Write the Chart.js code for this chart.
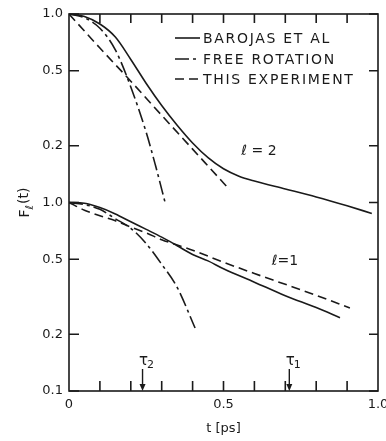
<!DOCTYPE html>
<html>
<head>
<meta charset="utf-8">
<script src="https://cdn.jsdelivr.net/npm/chart.js@4"></script>
<style>
  html, body { margin: 0; padding: 0; background: #fff; }
  #wrap { width: 386px; height: 441px; }
</style>
</head>
<body>
<div id="wrap"><canvas id="myChart" width="386" height="441"></canvas></div>
<script>
// l = 2 curves (values as read, shifted one decade up on the plot)
const tBarojas2 = [0, 0.05, 0.1, 0.15, 0.2, 0.25, 0.3, 0.35, 0.4, 0.45, 0.5, 0.55, 0.6, 0.7, 0.8, 0.9, 0.98];
const barojas2 = [1.0, 0.97, 0.885, 0.755, 0.574, 0.428, 0.327, 0.257, 0.207, 0.173, 0.151, 0.138, 0.130, 0.118, 0.107, 0.096, 0.0875];
const tFree2 = [0, 0.05, 0.1, 0.15, 0.2, 0.25, 0.28, 0.311];
const free2 = [1.0, 0.955, 0.84, 0.645, 0.41, 0.235, 0.157, 0.10];
const tExp2 = [0, 0.1, 0.2, 0.3, 0.4, 0.5, 0.52];
const exp2 = [1.0, 0.66, 0.44, 0.29, 0.192, 0.127, 0.117];

// l = 1 curves
const tBarojas1 = [0, 0.05, 0.1, 0.15, 0.2, 0.25, 0.3, 0.35, 0.4, 0.45, 0.5, 0.6, 0.7, 0.8, 0.877];
const barojas1 = [1.0, 0.99, 0.94, 0.87, 0.79, 0.72, 0.655, 0.59, 0.53, 0.49, 0.445, 0.378, 0.32, 0.277, 0.245];
const tFree1 = [0, 0.05, 0.1, 0.15, 0.2, 0.25, 0.3, 0.35, 0.408];
const free1 = [1.0, 0.975, 0.92, 0.82, 0.73, 0.605, 0.47, 0.355, 0.216];
const tExp1 = [0, 0.05, 0.1, 0.15, 0.2, 0.25, 0.3, 0.35, 0.4, 0.5, 0.6, 0.7, 0.8, 0.909];
const exp1 = [1.0, 0.91, 0.85, 0.80, 0.74, 0.69, 0.635, 0.595, 0.558, 0.482, 0.42, 0.368, 0.322, 0.276];

const L2_OFFSET = 10;

// axes
const yTickValues = [0.1, 0.2, 0.5, 1, 2, 5, 10];
const yTickLabels = ["0.1", "0.2", "0.5", "1.0", "0.2", "0.5", "1.0"];
const xTickMarks = [0.1, 0.2, 0.3, 0.4, 0.5, 0.6, 0.7, 0.8, 0.9];
const xTickLabels = { 0: "0", 0.5: "0.5", 1: "1.0" };

const legendNames = ["BAROJAS ET AL", "FREE ROTATION", "THIS EXPERIMENT"];
const tauNames = ["2", "1"];
const tauTimes = [0.238, 0.713];

const ink = "#1a1a1a";
const font = "'DejaVu Sans', sans-serif";
const solid = [];
const dashDot = [14, 4, 3, 4];
const dashed = [9, 5];

const pts = (ts, vs, k = 1) => ts.map((t, i) => ({ x: t, y: vs[i] * k }));

const makeSet = (label, data, dash) => ({
  label: label,
  data: data,
  borderColor: ink,
  borderWidth: 1.6,
  borderDash: dash,
  pointRadius: 0,
  fill: false,
  cubicInterpolationMode: "monotone",
});

//marcas hacia adentro, recuadro y anotaciones
const decorations = {
  id: "decorations",
  afterDraw(chart) {
    const { ctx, chartArea: a, scales: { x, y } } = chart;
    ctx.save();
    ctx.strokeStyle = ink;
    ctx.fillStyle = ink;
    ctx.lineWidth = 1.6;
    ctx.setLineDash([]);
    ctx.strokeRect(a.left, a.top, a.right - a.left, a.bottom - a.top);

    ctx.beginPath();
    xTickMarks.forEach((t) => {
      const px = x.getPixelForValue(t);
      ctx.moveTo(px, a.bottom);
      ctx.lineTo(px, a.bottom - 10);
      ctx.moveTo(px, a.top);
      ctx.lineTo(px, a.top + 9);
    });
    yTickValues.forEach((v) => {
      const py = y.getPixelForValue(v);
      ctx.moveTo(a.left, py);
      ctx.lineTo(a.left + 10, py);
      ctx.moveTo(a.right, py);
      ctx.lineTo(a.right - 9, py);
    });
    ctx.stroke();

    // leyenda
    ctx.font = "14px " + font;
    ctx.letterSpacing = "1.7px";
    ctx.textBaseline = "middle";
    ctx.textAlign = "left";
    const rows = [38, 59, 79];
    legendNames.forEach((name, i) => {
      const ds = chart.data.datasets[i];
      ctx.setLineDash(ds.borderDash);
      ctx.lineWidth = 1.6;
      ctx.beginPath();
      ctx.moveTo(175, rows[i]);
      ctx.lineTo(200, rows[i]);
      ctx.stroke();
      ctx.fillText(name, 203, rows[i] + 1);
    });
    ctx.setLineDash([]);
    ctx.letterSpacing = "0px";

    // l labels
    ctx.textAlign = "center";
    ctx.font = "14px " + font;
    ctx.fillText("\u2113 = 2", x.getPixelForValue(0.615), y.getPixelForValue(1.87));
    ctx.fillText("\u2113=1", x.getPixelForValue(0.699), y.getPixelForValue(0.486));

    // tau arrows
    tauTimes.forEach((t, i) => {
      const px = x.getPixelForValue(t);
      ctx.lineWidth = 1.4;
      ctx.beginPath();
      ctx.moveTo(px, a.bottom - 22);
      ctx.lineTo(px, a.bottom - 5);
      ctx.stroke();
      ctx.beginPath();
      ctx.moveTo(px - 3, a.bottom - 7);
      ctx.lineTo(px + 3, a.bottom - 7);
      ctx.lineTo(px, a.bottom);
      ctx.closePath();
      ctx.fill();
      ctx.font = "15px " + font;
      ctx.textAlign = "center";
      ctx.fillText("\u03c4", px + 1, a.bottom - 30);
      ctx.font = "11px " + font;
      ctx.fillText(tauNames[i], px + 8, a.bottom - 26);
    });

    // y title with subscript
    ctx.translate(25, (a.top + a.bottom) / 2);
    ctx.rotate(-Math.PI / 2);
    ctx.textAlign = "left";
    ctx.font = "14px " + font;
    const wF = ctx.measureText("F").width;
    ctx.font = "11px " + font;
    const wL = ctx.measureText("\u2113").width;
    ctx.font = "14px " + font;
    const wT = ctx.measureText("(t)").width;
    let sx = -(wF + wL + wT + 1) / 2;
    ctx.fillText("F", sx, 0);
    ctx.font = "11px " + font;
    ctx.fillText("\u2113", sx + wF, 5);
    ctx.font = "14px " + font;
    ctx.fillText("(t)", sx + wF + wL + 1, -1);
    ctx.restore();
  },
};

const ctx = document.getElementById("myChart").getContext("2d");

new Chart(ctx, {
  type: "line",
  data: {
    datasets: [
      makeSet("BAROJAS ET AL l=2", pts(tBarojas2, barojas2, L2_OFFSET), solid),
      makeSet("FREE ROTATION l=2", pts(tFree2, free2, L2_OFFSET), dashDot),
      makeSet("THIS EXPERIMENT l=2", pts(tExp2, exp2, L2_OFFSET), dashed),
      makeSet("BAROJAS ET AL l=1", pts(tBarojas1, barojas1), solid),
      makeSet("FREE ROTATION l=1", pts(tFree1, free1), dashDot),
      makeSet("THIS EXPERIMENT l=1", pts(tExp1, exp1), dashed),
    ],
  },
  options: {
    responsive: false,
    animation: false,
    layout: { padding: { top: 14, right: 8, left: 0, bottom: 0 } },
    plugins: { legend: { display: false }, tooltip: { enabled: false } },
    scales: {
      x: {
        type: "linear",
        min: 0,
        max: 1,
        afterFit: (scale) => { scale.height = 50; },
        afterBuildTicks: (scale) => {
          scale.ticks = Object.keys(xTickLabels).map((v) => ({ value: Number(v) }));
        },
        grid: { display: false, drawTicks: false },
        border: { display: false },
        ticks: {
          padding: 6,
          maxRotation: 0,
          autoSkip: false,
          color: ink,
          font: { family: font, size: 13 },
          callback: (v) => xTickLabels[v] ?? "",
        },
        title: {
          display: true,
          text: "t [ps]",
          color: ink,
          font: { family: font, size: 13 },
          padding: { top: 0, bottom: 5 },
        },
      },
      y: {
        type: "logarithmic",
        min: 0.1,
        max: 10,
        afterFit: (scale) => { scale.width = 69; },
        afterBuildTicks: (scale) => {
          scale.ticks = yTickValues.map((v) => ({ value: v }));
        },
        grid: { display: false, drawTicks: false },
        border: { display: false },
        ticks: {
          padding: 6,
          autoSkip: false,
          color: ink,
          font: { family: font, size: 13 },
          callback: (v) => {
            const i = yTickValues.indexOf(v);
            return i >= 0 ? yTickLabels[i] : "";
          },
        },
      },
    },
  },
  plugins: [decorations],
});
</script>
</body>
</html>
